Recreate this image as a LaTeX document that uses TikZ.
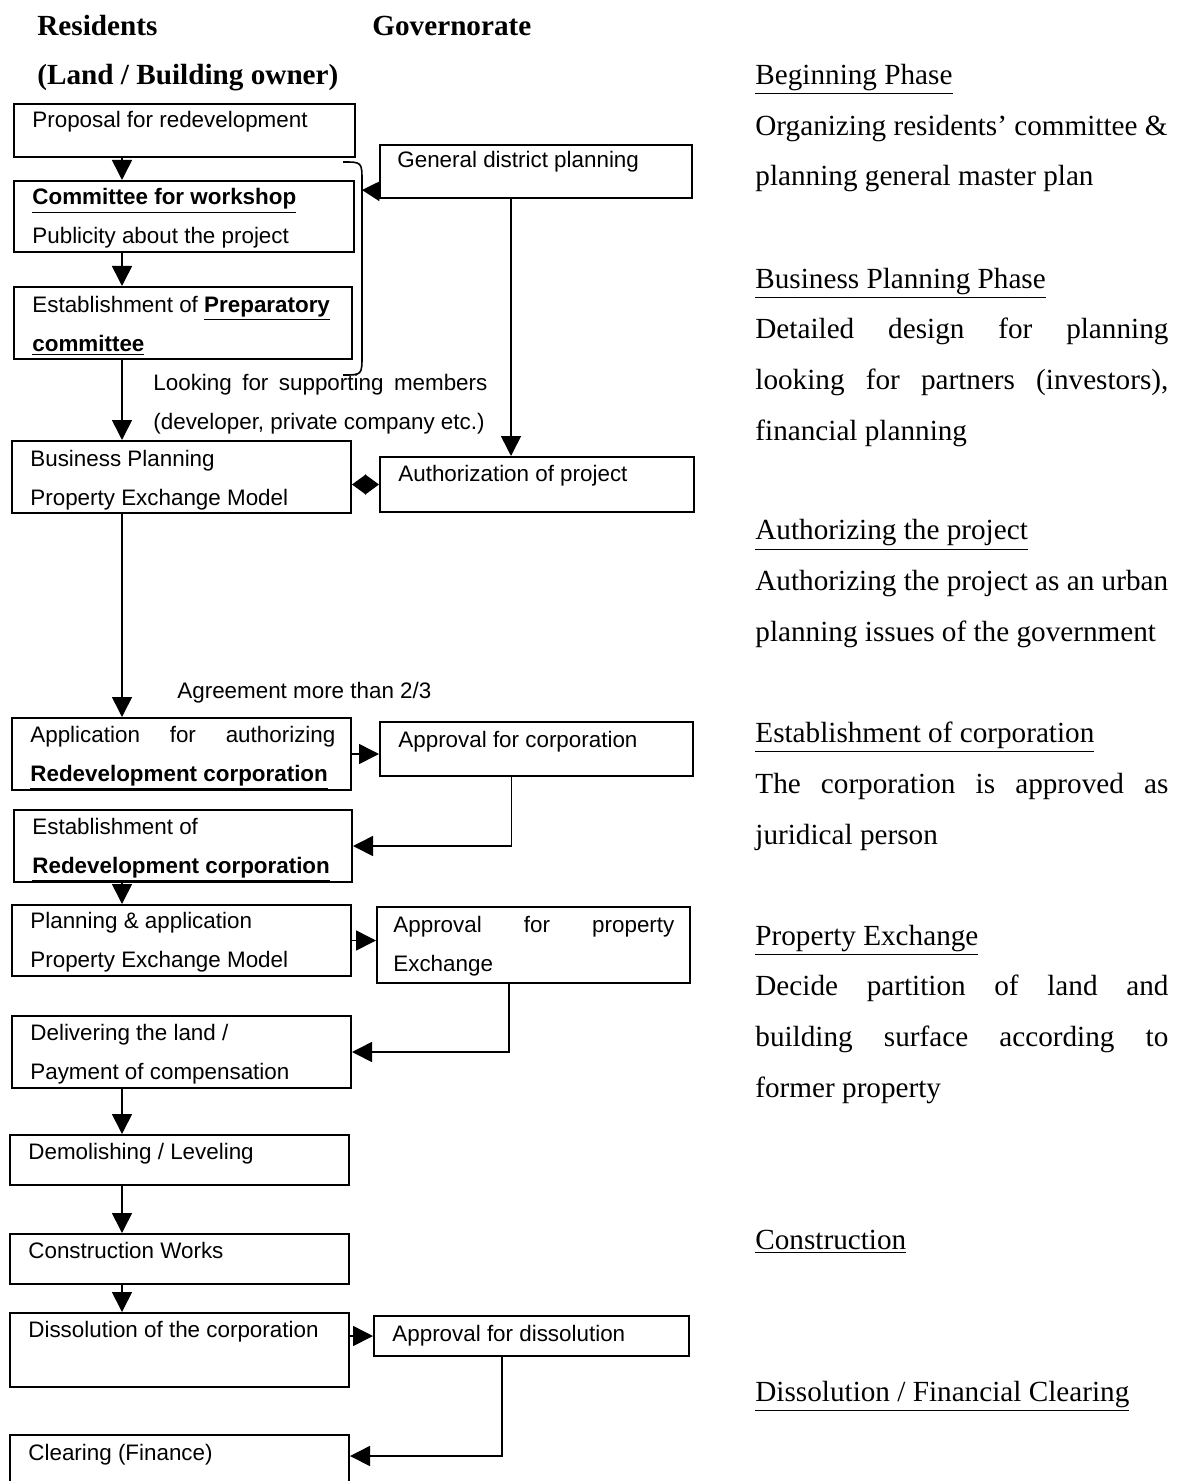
\documentclass[tikz,border=0pt]{standalone}
\usepackage{fontspec}
\setmainfont{Liberation Serif}
\setsansfont{Liberation Sans}
\usetikzlibrary{arrows.meta,fit}

\begin{document}
\begin{tikzpicture}[x=0.5pt,y=-0.5pt,
    stage/.style={draw, line width=1pt, inner sep=0pt},
    boxtext/.style={anchor=base west, inner sep=0pt, align=left,
      font=\sffamily\fontsize{11.2}{19.5}\selectfont},
    phase/.style={anchor=base west, inner sep=0pt, align=left,
      font=\fontsize{14.6}{25.3}\selectfont},
    head/.style={anchor=base west, inner sep=0pt,
      font=\bfseries\fontsize{14.6}{25.3}\selectfont},
    flow/.style={line width=0.8pt, -{Triangle[length=10pt,width=10pt]}}]
        \useasboundingbox (0,0) rectangle (1182,1481);

        % column heads
        \node[head] (residents) at (37,36) {Residents};
        \node[head] (owner) at (37,85) {(Land / Building owner)};
        \node[head] (governorate) at (372,36) {Governorate};

        % residents' column
        \node[stage, fit={(14,104) (355,157)}] (propose) {};
        \node[stage, fit={(14,181) (354,252)}] (workshop) {};
        \node[stage, fit={(14,287) (352,359)}] (prepcom) {};
        \node[stage, fit={(12,441) (351,513)}] (bizplan) {};
        \node[stage, fit={(12,718) (351,790)}] (apply) {};
        \node[stage, fit={(14,810) (352,882)}] (estab) {};
        \node[stage, fit={(12,905) (351,976)}] (planapp) {};
        \node[stage, fit={(12,1016) (351,1088)}] (deliver) {};
        \node[stage, fit={(10,1135) (349,1185)}] (demolish) {};
        \node[stage, fit={(10,1234) (349,1284)}] (construct) {};
        \node[stage, fit={(10,1313) (349,1387)}] (dissolve) {};
        \node[stage, fit={(10,1435) (349,1500)}] (clearing) {};

        % governorate column
        \node[stage, fit={(380,145) (692,198)}] (gdp) {};
        \node[stage, fit={(380,457) (694,512)}] (authorize) {};
        \node[stage, fit={(380,722) (693,776)}] (corpok) {};
        \node[stage, fit={(377,907) (690,983)}] (propok) {};
        \node[stage, fit={(374,1316) (689,1356)}] (dissolveok) {};

        % box texts (placed at the baseline of their last line)
        \node[boxtext] at (32,128) {Proposal for redevelopment};
        \node[boxtext] at (397,168) {General district planning};
        \node[boxtext] at (32,244) {\underline{\textbf{Committee for workshop}}\\Publicity about the project};
        \node[boxtext] at (32,351) {Establishment of \underline{\textbf{Preparatory}}\\\underline{\textbf{committee}}};
        \node[boxtext] at (30,505) {Business Planning\\Property Exchange Model};
        \node[boxtext] at (398,481) {Authorization of project};
        \node[boxtext] at (30,781) {\makebox[152.5pt][s]{Application for authorizing}\\\underline{\textbf{Redevelopment corporation}}};
        \node[boxtext] at (398,747) {Approval for corporation};
        \node[boxtext] at (32,873) {Establishment of\\\underline{\textbf{Redevelopment corporation}}};
        \node[boxtext] at (30,967) {Planning \& application\\Property Exchange Model};
        \node[boxtext] at (393,971) {\makebox[140.5pt][s]{Approval for property}\\Exchange};
        \node[boxtext] at (30,1079) {Delivering the land /\\Payment of compensation};
        \node[boxtext] at (28,1159) {Demolishing / Leveling};
        \node[boxtext] at (28,1258) {Construction Works};
        \node[boxtext] at (28,1337) {Dissolution of the corporation};
        \node[boxtext] at (392,1341) {Approval for dissolution};
        \node[boxtext] at (28,1460) {Clearing (Finance)};
        \node[boxtext] (support) at (153,429) {\makebox[167pt][s]{Looking for supporting members}\\(developer, private company etc.)};
        \node[boxtext] (agree) at (177,698) {Agreement more than 2/3};

        % phases
        \node[phase] (beginphase) at (755,186) {\underline{Beginning Phase}\\Organizing residents’ committee \&\\planning general master plan};
        \node[phase] (bizphase) at (755,440) {\underline{Business Planning Phase}\\\makebox[206.5pt][s]{Detailed design for planning}\\\makebox[206.5pt][s]{looking for partners (investors),}\\financial planning};
        \node[phase] (authphase) at (755,641) {\underline{Authorizing the project}\\Authorizing the project as an urban\\planning issues of the government};
        \node[phase] (corpphase) at (755,844) {\underline{Establishment of corporation}\\\makebox[206.5pt][s]{The corporation is approved as}\\juridical person};
        \node[phase] (propphase) at (755,1097) {\underline{Property Exchange}\\\makebox[206.5pt][s]{Decide partition of land and}\\\makebox[206.5pt][s]{building surface according to}\\former property};
        \node[phase] (buildphase) at (755,1249) {\underline{Construction}};
        \node[phase] (clearphase) at (755,1401) {\underline{Dissolution / Financial Clearing}};

        % main flow
        \coordinate (spine) at (122,0);
        \draw[flow] (propose.south -| spine) -- (workshop.north -| spine);
        \draw[flow] (workshop.south -| spine) -- (prepcom.north -| spine);
        \draw[flow] (prepcom.south -| spine) -- (bizplan.north -| spine);
        \draw[flow] (bizplan.south -| spine) -- (apply.north -| spine);
        \draw[flow] (estab.south -| spine) -- (planapp.north -| spine);
        \draw[flow] (deliver.south -| spine) -- (demolish.north -| spine);
        \draw[flow] (demolish.south -| spine) -- (construct.north -| spine);
        \draw[flow] (construct.south -| spine) -- (dissolve.north -| spine);

        % bracket round the beginning phase
        \coordinate (brace) at (362,190);
        \draw[line width=0.8pt] (343,162) .. controls (362,162) .. (362,182)
            -- (362,355) .. controls (362,375) .. (343,375);
        \draw[flow, -{Triangle[length=9pt,width=10pt]}] ([yshift=4pt]gdp.south west) -- (brace);

        % exchanges with the governorate
        \draw[flow] ([xshift=-12.5pt]gdp.south) -- ([xshift=-12.5pt]gdp.south |- authorize.north);
        \draw[line width=0.8pt, {Triangle[length=7pt,width=10pt]}-{Triangle[length=7pt,width=10pt]}]
            (bizplan.east |- authorize.west) -- (authorize.west);
        \draw[flow] (apply.east) -- (apply.east -| corpok.west);
        \draw[flow] ([xshift=-12.5pt]corpok.south) |- (estab.east);
        \draw[flow] (planapp.east) -- (planapp.east -| propok.west);
        \draw[flow] ([xshift=-12.25pt]propok.south) |- (deliver.east);
        \draw[flow] (dissolve.east |- dissolveok.west) -- (dissolveok.west);
        \draw[flow] ([xshift=-14.75pt]dissolveok.south) |- ([yshift=-11pt]clearing.north east);
\end{tikzpicture}
\end{document}
